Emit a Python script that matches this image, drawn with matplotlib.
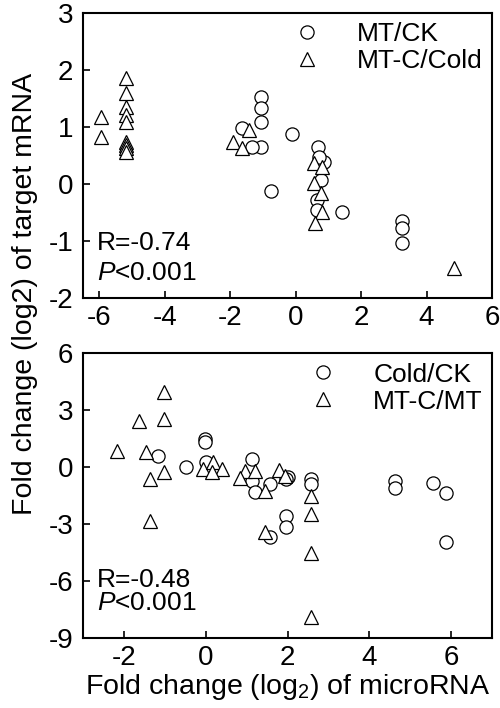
import matplotlib
matplotlib.use("Agg")
import matplotlib.pyplot as plt

plt.rcParams["font.family"] = ["Liberation Sans", "DejaVu Sans"]
plt.rcParams["mathtext.fontset"] = "custom"
plt.rcParams["mathtext.rm"] = "Liberation Sans"
plt.rcParams["mathtext.it"] = "Liberation Sans:italic"
plt.rcParams["axes.unicode_minus"] = False

# top panel: MT/CK (circles) and MT-C/Cold (triangles)
mtck_x = [-1.65, -1.07, -1.07, -1.07, -1.07, -1.35, -0.12, -0.74, 0.67, 0.86,
          0.7, 0.77, 0.64, 0.64, 1.41, 3.25, 3.25, 3.25]
mtck_y = [0.98, 1.53, 1.33, 1.09, 0.65, 0.65, 0.88, -0.12, 0.65, 0.39,
          0.47, 0.07, -0.28, -0.46, -0.5, -0.65, -0.77, -1.04]

mtc_cold_x = [-5.95, -5.95, -5.2, -5.2, -5.2, -5.2, -5.2, -5.2, -5.2, -5.2, -5.2,
              -1.93, -1.65, -1.44, 0.55, 0.8, 0.55, 0.77, 0.8, 0.58, 4.85]
mtc_cold_y = [1.18, 0.83, 1.86, 1.6, 1.35, 1.2, 1.09, 0.74, 0.68, 0.63, 0.56,
              0.74, 0.63, 0.95, 0.37, 0.3, 0.02, -0.16, -0.49, -0.68, -1.47]

# bottom panel: Cold/CK (circles) and MT-C/MT (triangles)
coldck_x = [-1.17, -0.49, -0.02, -0.02, 0.0, 1.12, 1.12, 1.2, 1.56, 2.0, 1.97,
            2.58, 2.58, 4.63, 4.63, 5.56, 5.87, 1.97, 1.97, 1.56, 5.87]
coldck_y = [0.57, 0.0, 1.47, 1.31, 0.26, 0.42, -0.73, -1.3, -0.9, -0.52, -0.63,
            -0.63, -0.9, -0.73, -1.1, -0.84, -1.36, -2.56, -3.14, -3.7, -3.93]

mtc_mt_x = [-1.02, -1.02, -1.63, -2.17, -1.46, -1.02, -1.37, -1.37, -0.07, 0.17,
            0.41, 0.15, 0.95, 1.2, 0.83, 1.44, 1.8, 1.93, 2.58, 2.58, 2.58, 2.58, 1.44]
mtc_mt_y = [3.98, 2.55, 2.45, 0.84, 0.78, -0.26, -0.63, -2.83, -0.1, 0.26,
            -0.1, -0.26, -0.2, -0.2, -0.55, -1.25, -0.16, -0.47, -1.5, -2.46, -4.55, -7.9, -3.4]

fig = plt.figure(figsize=(5, 7.08), dpi=100)
ax1 = fig.add_axes([0.166, 0.579, 0.818, 0.403])
ax2 = fig.add_axes([0.166, 0.099, 0.818, 0.402])

ms = 9.5
style = dict(linestyle="none", markerfacecolor="white", markeredgecolor="black",
             markeredgewidth=0.9, markersize=ms)

ax1.plot(mtck_x, mtck_y, marker="o", label="MT/CK", **style)
ax1.plot(mtc_cold_x, mtc_cold_y, marker="^", label="MT-C/Cold", **style)
ax2.plot(coldck_x, coldck_y, marker="o", label="Cold/CK", **style)
ax2.plot(mtc_mt_x, mtc_mt_y, marker="^", label="MT-C/MT", **style)

ax1.set_xlim(-6.5, 6)
ax1.set_ylim(-2, 3)
ax1.set_xticks([-6, -4, -2, 0, 2, 4, 6])
ax1.set_yticks([-2, -1, 0, 1, 2, 3])
ax2.set_xlim(-3, 7)
ax2.set_ylim(-9, 6)
ax2.set_xticks([-2, 0, 2, 4, 6])
ax2.set_yticks([-9, -6, -3, 0, 3, 6])

for ax in (ax1, ax2):
    for s in ax.spines.values():
        s.set_linewidth(1.5)
    ax.tick_params(direction="in", length=5, width=1.2, labelsize=20, pad=5)
    ax.tick_params(axis="y", pad=7)

ax1.text(0.035, 0.168, "R=-0.74", transform=ax1.transAxes, fontsize=19)
ax1.text(0.035, 0.063, "$\\it{P}$<0.001", transform=ax1.transAxes, fontsize=19)
ax2.text(0.035, 0.18, "R=-0.48", transform=ax2.transAxes, fontsize=19)
ax2.text(0.035, 0.098, "$\\it{P}$<0.001", transform=ax2.transAxes, fontsize=19)

leg_kw = dict(frameon=False, fontsize=19, handlelength=1.0, handletextpad=1.4,
              labelspacing=0.12, borderaxespad=0.15, borderpad=0.2)
ax1.legend(loc="upper right", **leg_kw)
ax2.legend(loc="upper right", **leg_kw)

ax2.set_xlabel("Fold change (log$_2$) of microRNA", fontsize=20.5, labelpad=1)
fig.text(0.05, 0.585, "Fold change (log2) of target mRNA", rotation=90,
         fontsize=20.5, ha="center", va="center")

fig.savefig("out.png", dpi=100)
